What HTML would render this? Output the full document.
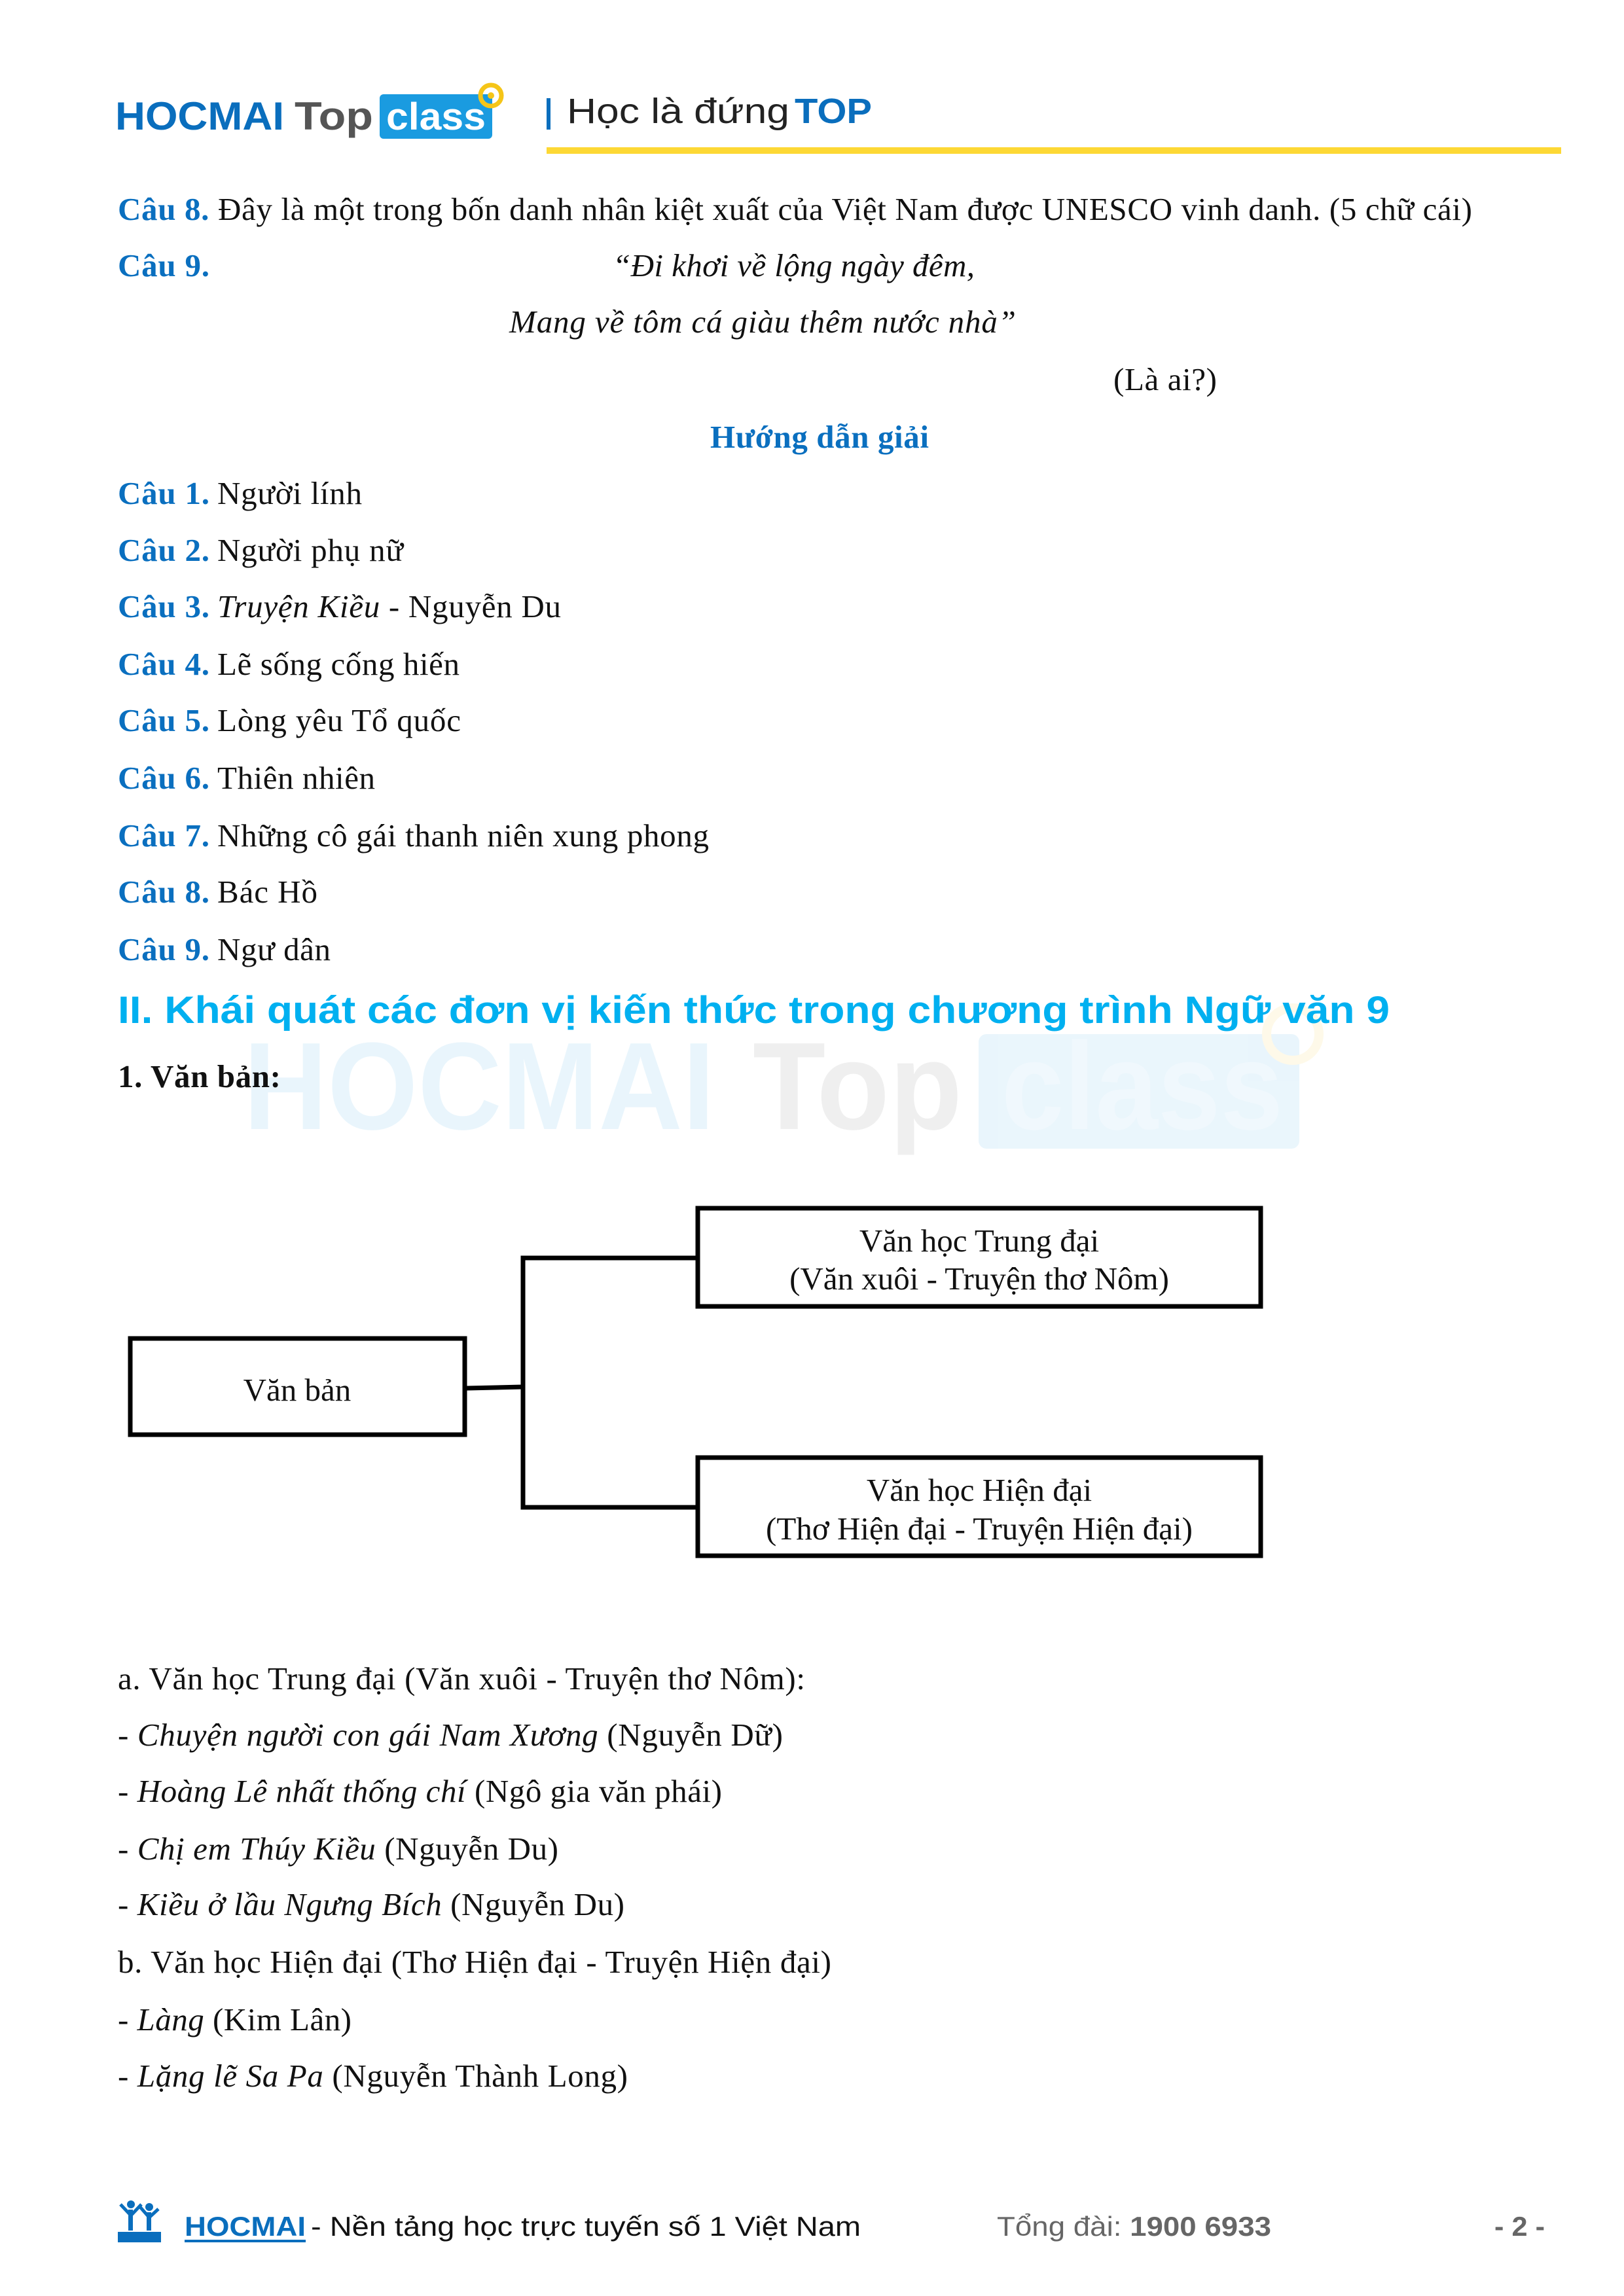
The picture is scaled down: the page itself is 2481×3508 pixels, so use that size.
<!DOCTYPE html>
<html><head><meta charset="utf-8"><style>
html,body{margin:0;padding:0;background:#fff;}
svg{display:block;}
.t{font-family:"Liberation Serif",serif;font-size:49px;fill:#111;}
.b{font-weight:bold;fill:#0a6fbf;}
.i{font-style:italic;}
.s{font-family:"Liberation Sans",sans-serif;}
</style></head><body>
<svg width="2481" height="3508" viewBox="0 0 2481 3508" xmlns="http://www.w3.org/2000/svg">
<!-- header logo -->
<text x="176" y="198" class="s" font-size="60" font-weight="bold" fill="#0a6ebd" textLength="258" lengthAdjust="spacingAndGlyphs">HOCMAI</text>
<text x="450" y="198" class="s" font-size="60" font-weight="bold" fill="#555" textLength="120" lengthAdjust="spacingAndGlyphs">Top</text>
<rect x="580" y="144" width="172" height="68" rx="6" fill="#1a9be0"/>
<text x="590" y="198" class="s" font-size="58" font-weight="bold" fill="#fff" textLength="152" lengthAdjust="spacingAndGlyphs">class</text>
<circle cx="750" cy="146" r="16" fill="none" stroke="#f5c518" stroke-width="7"/>
<circle cx="750" cy="146" r="5" fill="#f5c518"/>
<rect x="835" y="150" width="6" height="48" fill="#0a6ebd"/>
<text x="866" y="188" class="s" font-size="54" fill="#222" textLength="340" lengthAdjust="spacingAndGlyphs">Học là đứng</text>
<text x="1214" y="188" class="s" font-size="54" font-weight="bold" fill="#0a6ebd" textLength="118" lengthAdjust="spacingAndGlyphs">TOP</text>
<rect x="835" y="225" width="1550" height="10" fill="#fdd835"/>

<!-- watermark -->
<g opacity="0.09">
<text x="372" y="1725" class="s" font-size="190" font-weight="bold" fill="#1a9be0" textLength="720" lengthAdjust="spacingAndGlyphs">HOCMAI</text>
<text x="1150" y="1725" class="s" font-size="190" font-weight="bold" fill="#555" textLength="320" lengthAdjust="spacingAndGlyphs">Top</text>
<rect x="1495" y="1580" width="490" height="175" rx="12" fill="#1a9be0"/>
<circle cx="1975" cy="1580" r="40" fill="none" stroke="#f5c518" stroke-width="14"/>
</g>
<text x="1530" y="1725" class="s" font-size="190" font-weight="bold" fill="#f0f8fd" textLength="430" lengthAdjust="spacingAndGlyphs">class</text>

<!-- questions -->
<text x="180" y="336" class="t" textLength="2069" lengthAdjust="spacing"><tspan class="b">Câu 8.</tspan> Đây là một trong bốn danh nhân kiệt xuất của Việt Nam được UNESCO vinh danh. (5 chữ cái)</text>
<text x="180" y="422" class="t b" textLength="140" lengthAdjust="spacing">Câu 9.</text>
<text x="936" y="422" class="t i" textLength="553" lengthAdjust="spacing">“Đi khơi về lộng ngày đêm,</text>
<text x="778" y="508" class="t i" textLength="774" lengthAdjust="spacing">Mang về tôm cá giàu thêm nước nhà”</text>
<text x="1701" y="596" class="t" textLength="158" lengthAdjust="spacing">(Là ai?)</text>
<text x="1085" y="684" class="t b" textLength="334" lengthAdjust="spacing">Hướng dẫn giải</text>

<g class="t">
<text x="180" y="770" class="t b" textLength="140">Câu 1.</text><text x="332" y="770" class="t" textLength="221" lengthAdjust="spacing">Người lính</text>
<text x="180" y="857" class="t b" textLength="140">Câu 2.</text><text x="332" y="857" class="t" textLength="284" lengthAdjust="spacing">Người phụ nữ</text>
<text x="180" y="943" class="t b" textLength="140">Câu 3.</text><text x="332" y="943" class="t" textLength="525" lengthAdjust="spacing"><tspan class="i">Truyện Kiều</tspan> - Nguyễn Du</text>
<text x="180" y="1031" class="t b" textLength="140">Câu 4.</text><text x="332" y="1031" class="t" textLength="370" lengthAdjust="spacing">Lẽ sống cống hiến</text>
<text x="180" y="1117" class="t b" textLength="140">Câu 5.</text><text x="332" y="1117" class="t" textLength="372" lengthAdjust="spacing">Lòng yêu Tổ quốc</text>
<text x="180" y="1205" class="t b" textLength="140">Câu 6.</text><text x="332" y="1205" class="t" textLength="241" lengthAdjust="spacing">Thiên nhiên</text>
<text x="180" y="1293" class="t b" textLength="140">Câu 7.</text><text x="332" y="1293" class="t" textLength="751" lengthAdjust="spacing">Những cô gái thanh niên xung phong</text>
<text x="180" y="1379" class="t b" textLength="140">Câu 8.</text><text x="332" y="1379" class="t" textLength="153" lengthAdjust="spacing">Bác Hồ</text>
<text x="180" y="1467" class="t b" textLength="140">Câu 9.</text><text x="332" y="1467" class="t" textLength="173" lengthAdjust="spacing">Ngư dân</text>
</g>

<text x="180" y="1563" class="s" font-size="58" font-weight="bold" fill="#00b0f0" textLength="1943" lengthAdjust="spacingAndGlyphs">II. Khái quát các đơn vị kiến thức trong chương trình Ngữ văn 9</text>
<text x="180" y="1661" class="t" font-weight="bold" textLength="249" lengthAdjust="spacing">1. Văn bản:</text>

<!-- diagram -->
<g fill="none" stroke="#000" stroke-width="7">
<rect x="199" y="2045" width="511" height="147"/>
<rect x="1066" y="1846" width="860" height="150"/>
<rect x="1066" y="2227" width="860" height="150"/>
<polyline points="713,2121 799,2119"/>
<polyline points="1063,1922 799,1922 799,2303 1063,2303"/>
</g>
<text x="454" y="2140" class="t" font-size="57" text-anchor="middle">Văn bản</text>
<text x="1496" y="1912" class="t" font-size="57" text-anchor="middle">Văn học Trung đại</text>
<text x="1496" y="1970" class="t" font-size="57" text-anchor="middle">(Văn xuôi - Truyện thơ Nôm)</text>
<text x="1496" y="2293" class="t" font-size="57" text-anchor="middle">Văn học Hiện đại</text>
<text x="1496" y="2352" class="t" font-size="57" text-anchor="middle">(Thơ Hiện đại - Truyện Hiện đại)</text>

<!-- lower list -->
<text x="180" y="2581" class="t" textLength="1050" lengthAdjust="spacing">a. Văn học Trung đại (Văn xuôi - Truyện thơ Nôm):</text>
<text x="180" y="2667" class="t" textLength="1016" lengthAdjust="spacing">- <tspan class="i">Chuyện người con gái Nam Xương</tspan> (Nguyễn Dữ)</text>
<text x="180" y="2753" class="t" textLength="923" lengthAdjust="spacing">- <tspan class="i">Hoàng Lê nhất thống chí</tspan> (Ngô gia văn phái)</text>
<text x="180" y="2841" class="t" textLength="673" lengthAdjust="spacing">- <tspan class="i">Chị em Thúy Kiều</tspan> (Nguyễn Du)</text>
<text x="180" y="2926" class="t" textLength="774" lengthAdjust="spacing">- <tspan class="i">Kiều ở lầu Ngưng Bích</tspan> (Nguyễn Du)</text>
<text x="180" y="3014" class="t" textLength="1090" lengthAdjust="spacing">b. Văn học Hiện đại (Thơ Hiện đại - Truyện Hiện đại)</text>
<text x="180" y="3102" class="t" textLength="357" lengthAdjust="spacing">- <tspan class="i">Làng</tspan> (Kim Lân)</text>
<text x="180" y="3188" class="t" textLength="779" lengthAdjust="spacing">- <tspan class="i">Lặng lẽ Sa Pa</tspan> (Nguyễn Thành Long)</text>

<!-- footer -->
<g fill="#0a6ebd">
<circle cx="200" cy="3368" r="6"/><circle cx="228" cy="3372" r="6"/>
<rect x="196" y="3376" width="7" height="32"/><rect x="224" y="3380" width="7" height="28"/>
<path d="M184 3368 L200 3385 L216 3368 M214 3372 L228 3388 L242 3375" stroke="#0a6ebd" stroke-width="5" fill="none"/>
<rect x="180" y="3410" width="66" height="16"/>
</g>
<text x="282" y="3416" class="s" font-size="42" font-weight="bold" fill="#0a6ebd" textLength="185" lengthAdjust="spacingAndGlyphs">HOCMAI</text>
<rect x="282" y="3422" width="185" height="4" fill="#0a6ebd"/>
<text x="475" y="3416" class="s" font-size="42" fill="#111" textLength="840" lengthAdjust="spacingAndGlyphs">- Nền tảng học trực tuyến số 1 Việt Nam</text>
<text x="1523" y="3416" class="s" font-size="42" fill="#666" textLength="419" lengthAdjust="spacingAndGlyphs">Tổng đài: <tspan font-weight="bold">1900 6933</tspan></text>
<text x="2283" y="3416" class="s" font-size="42" font-weight="bold" fill="#666" textLength="77" lengthAdjust="spacingAndGlyphs">- 2 -</text>
</svg>
</body></html>
